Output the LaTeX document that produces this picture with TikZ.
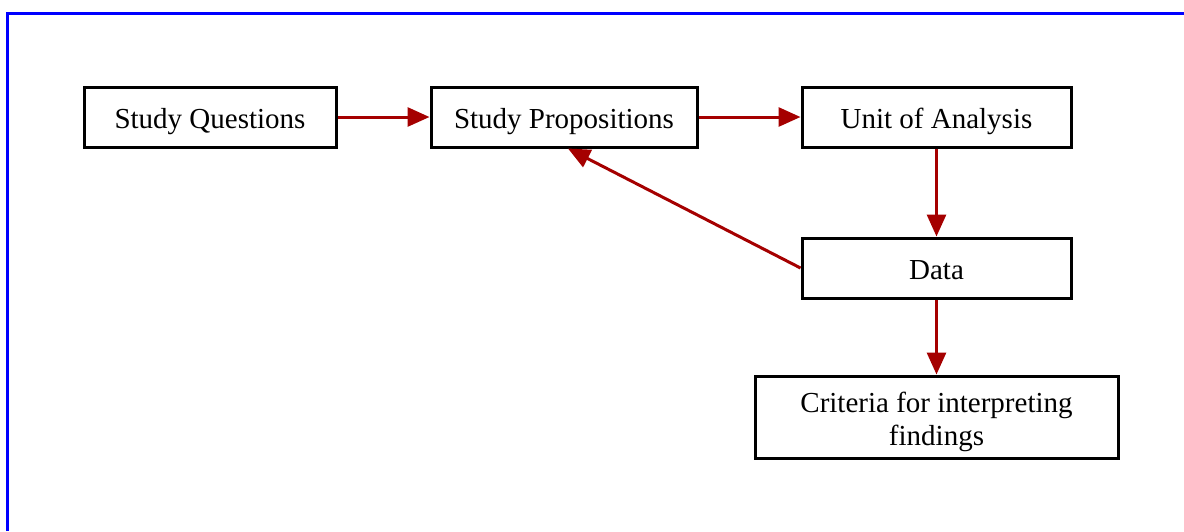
\documentclass[tikz,border=0pt]{standalone}
\usepackage{fontspec}
\setmainfont{Liberation Serif}
\usetikzlibrary{arrows.meta}
\definecolor{flowred}{RGB}{165,0,0}
\definecolor{frameblue}{RGB}{0,0,255}
\tikzset{
  boxbase/.style={draw=black, line width=3pt, fill=white, inner sep=0pt,
    align=center, text=black, font=\fontsize{29}{33}\selectfont},
  stepbox/.style={boxbase, minimum height=60pt,
    text height=22pt, text depth=0pt},
  flow/.style={draw=flowred, line width=3pt,
    -{Triangle[length=22pt,width=19pt,fill=flowred]}},
}
\begin{document}
\begin{tikzpicture}[x=1pt,y=-1pt]
  \useasboundingbox (0,0) rectangle (1184,531);
  % outer frame (top and left edges)
  \draw[frameblue, line width=3pt] (7.5,531) -- (7.5,13.5) -- (1184,13.5);

  % boxes
  \node[stepbox, minimum width=252pt] (sq)   at (210,117)   {Study Questions};
  \node[stepbox, minimum width=266pt] (sp)   at (564,117)   {Study Propositions};
  \node[stepbox, minimum width=269pt] (ua)   at (936.5,117) {Unit of Analysis};
  \node[stepbox, minimum width=269pt] (data) at (936.5,268) {Data};
  \node[boxbase, minimum width=363pt, minimum height=82pt] (crit) at (936.5,417)
       {\rule{0pt}{30pt}Criteria for interpreting\\findings};

  % connectors
  \draw[flow] (sq.east) -- (sp.west);
  \draw[flow] (sp.east) -- (ua.west);
  \draw[flow] (ua.south) -- (data.north);
  \draw[flow] (data.west) -- ([xshift=4pt]sp.south);
  \draw[flow] (data.south) -- (crit.north);
\end{tikzpicture}
\end{document}
